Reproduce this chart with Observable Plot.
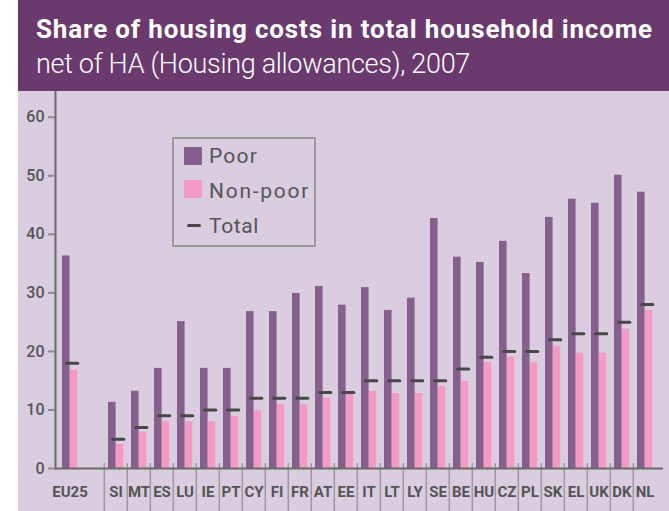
<!DOCTYPE html>
<html>
<head>
<meta charset="utf-8">
<script src="https://cdn.jsdelivr.net/npm/d3@7"></script>
<script src="https://cdn.jsdelivr.net/npm/@observablehq/plot@0.6"></script>
<style>
  html, body { margin: 0; padding: 0; background: #ffffff; }
  #wrap { position: relative; margin-left: 18px; width: 651px; height: 511px; background: #d9cddf; overflow: hidden; font-family: Roboto, "DejaVu Sans", sans-serif; }
  #head { position: absolute; left: 0; top: 0; width: 651px; height: 91px; background: #6a3a6e; }
  .t { position: absolute; white-space: nowrap; line-height: 1; color: #ffffff; }
  #title { left: 18px; top: 15.8px; font-size: 26px; font-weight: 700; }
  #subtitle { left: 18px; top: 51.3px; font-size: 27px; font-weight: 300; }
  #chart { position: absolute; left: 0; top: 91px; }
  #legend { position: absolute; left: 154px; top: 137px; width: 140px; height: 106px; border: 2px solid #9a9a9a; }
  .lg { position: absolute; white-space: nowrap; line-height: 1; font-size: 21px; color: #555555; left: 35px; }
  .sw { position: absolute; left: 10px; width: 18px; height: 18px; }
  .dash { position: absolute; left: 13px; width: 14px; height: 3px; border-radius: 1.5px; background: #484848; }
</style>
</head>
<body>
<div id="wrap">
  <div id="head">
    <div class="t" id="title">Share of housing costs in total household income</div>
    <div class="t" id="subtitle">net of HA (Housing allowances), 2007</div>
  </div>
  <div id="chart"></div>
  <div id="legend">
    <div class="sw" style="top:8px;background:#86608c"></div>
    <div class="lg" id="lgPoor" style="top:7.3px">Poor</div>
    <div class="sw" style="top:41px;background:#f59ac4"></div>
    <div class="lg" id="lgNon" style="top:42.3px">Non-poor</div>
    <div class="dash" style="top:84.8px"></div>
    <div class="lg" id="lgTot" style="top:76.6px">Total</div>
  </div>
</div>
<script>
const countries = ["EU25","SI","MT","ES","LU","IE","PT","CY","FI","FR","AT","EE","IT","LT","LY","SE","BE","HU","CZ","PL","SK","EL","UK","DK","NL"];
const poor    = [36.3, 11.3, 13.2, 17.1, 25.1, 17.1, 17.1, 26.8, 26.8, 29.9, 31.1, 27.9, 30.9, 27.0, 29.1, 42.7, 36.1, 35.2, 38.8, 33.3, 42.9, 46.0, 45.3, 50.1, 47.2];
const nonPoor = [16.8, 4.1, 6.2, 8.0, 8.0, 8.0, 8.9, 9.9, 10.9, 10.9, 12.0, 12.8, 13.2, 12.8, 12.8, 14.0, 14.9, 18.1, 19.0, 18.1, 20.9, 19.7, 19.7, 23.8, 27.0];
const total   = [18, 5, 7, 9, 9, 10, 10, 12, 12, 12, 13, 13, 15, 15, 15, 15, 17, 19, 20, 20, 22, 23, 23, 25, 28];
const yTicks  = [0, 10, 20, 30, 40, 50, 60];

const gap = " ";
const xDomain = [countries[0], gap, ...countries.slice(1)];
const rows = countries.map((c, i) => ({country: c, poor: poor[i], nonPoor: nonPoor[i], total: total[i]}));

const xRange = [35, 643.5];
const step = (xRange[1] - xRange[0]) / xDomain.length;

const chart = Plot.plot({
  width: 651,
  height: 420,
  marginTop: 0,
  marginLeft: 37,
  marginRight: 6,
  marginBottom: 43,
  style: {background: "transparent", fontFamily: "Roboto, 'DejaVu Sans', sans-serif", overflow: "visible"},
  x: {domain: xDomain, range: xRange, padding: 0, label: null},
  y: {domain: [0, 64.4], label: null},
  marks: [
    Plot.ruleX(countries.slice(1), {x: d => d, y1: 0.85, y2: -8, dx: -step / 2, stroke: "#9c9c9c", strokeWidth: 1.5}),
    Plot.barY(rows, {x: "country", y: "poor", fill: "#86608c", insetLeft: 4, insetRight: step - 12}),
    Plot.barY(rows, {x: "country", y: "nonPoor", fill: "#f59ac4", insetLeft: 12, insetRight: step - 19.6}),
    Plot.tickY(rows, {x: "country", y: "total", stroke: "#484848", strokeWidth: 3, strokeLinecap: "round", insetLeft: 8.5, insetRight: step - 20.2}),
    Plot.frame({anchor: "left", stroke: "#6a6a6a", strokeWidth: 2}),
    Plot.ruleY([0], {stroke: "#6a6a6a", strokeWidth: 2}),
    Plot.axisY({ticks: yTicks, tickSize: 7, tickFormat: () => "", stroke: "#8c8c8c", strokeWidth: 2, label: null}),
    Plot.axisY({ticks: yTicks, tickSize: 0, tickPadding: 11, fill: "#555555", fontSize: 16, fontWeight: 500, label: null}),
    Plot.axisX({tickSize: 0, tickPadding: 18, tickFormat: d => d.trim(), fill: "#555555", fontSize: 15, fontWeight: "bold", label: null})
  ]
});
document.getElementById("chart").appendChild(chart);

function fit(id, target) {
  const el = document.getElementById(id);
  const w = el.getBoundingClientRect().width;
  const n = el.textContent.length;
  el.style.letterSpacing = ((target - w) / n) + "px";
}
fit("title", 617);
fit("subtitle", 434);
fit("lgNon", 101);
fit("lgPoor", 49);
fit("lgTot", 50);
</script>
</body>
</html>
